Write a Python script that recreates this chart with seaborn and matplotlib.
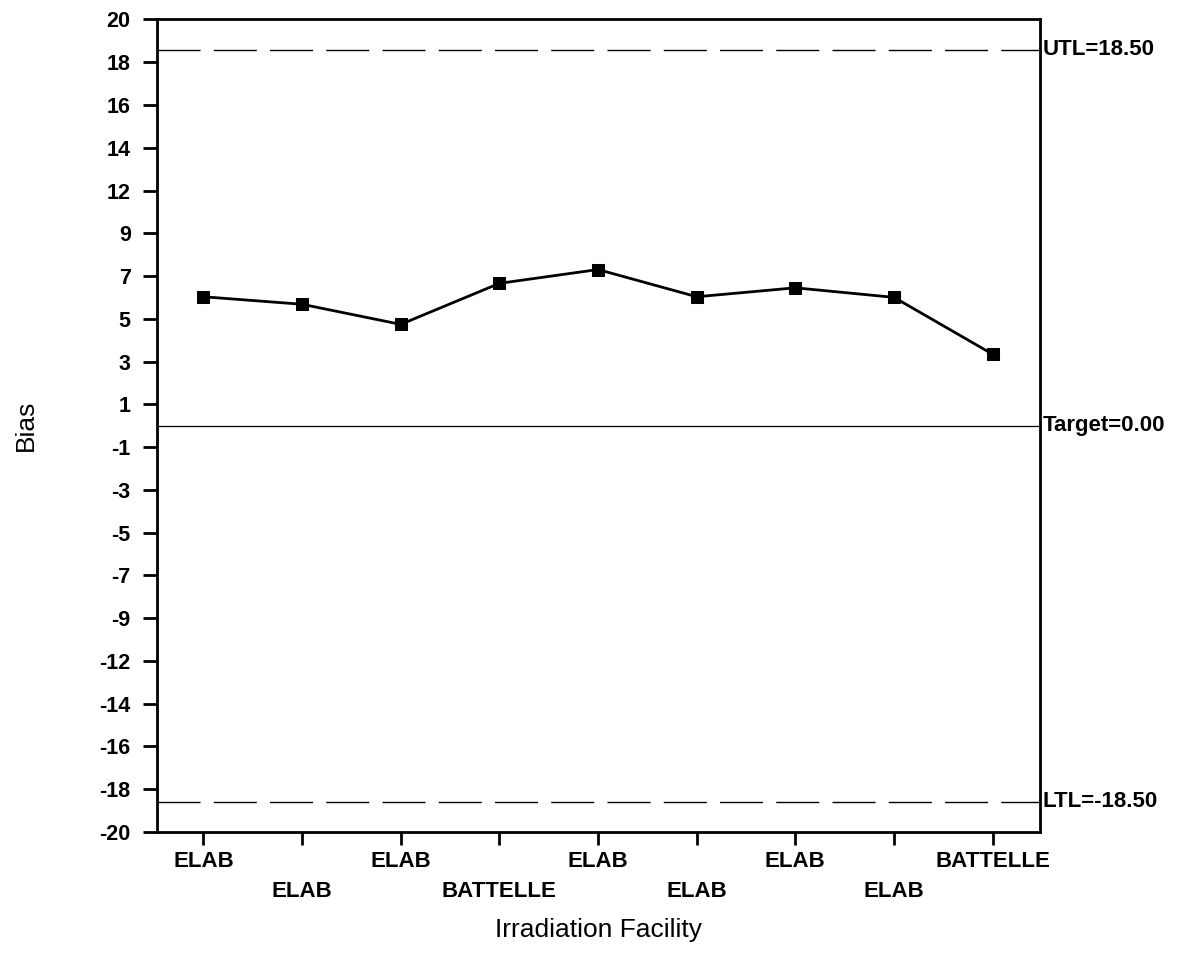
import numpy as np
import pandas as pd
import matplotlib
matplotlib.use("Agg")
import matplotlib.pyplot as plt
import matplotlib.transforms as mtransforms
import seaborn as sns

# ---- data ----
facilities = ["ELAB", "ELAB", "ELAB", "BATTELLE", "ELAB", "ELAB", "ELAB", "ELAB", "BATTELLE"]
bias = [6.35, 5.98, 4.99, 7.01, 7.69, 6.35, 6.79, 6.32, 3.52]
utl = 18.50
target = 0.00
ltl = -18.50
y_tick_labels = ["-20", "-18", "-16", "-14", "-12", "-9", "-7", "-5", "-3", "-1",
                 "1", "3", "5", "7", "9", "12", "14", "16", "18", "20"]
x_label = "Irradiation Facility"
y_label = "Bias"

sns.set_style("white")
plt.rcParams["font.family"] = ["Liberation Sans", "DejaVu Sans"]
plt.rcParams["text.color"] = "black"
plt.rcParams["axes.labelcolor"] = "black"
plt.rcParams["xtick.color"] = "black"
plt.rcParams["ytick.color"] = "black"

fig = plt.figure(figsize=(11.87, 9.59), dpi=100)
ax = fig.add_axes([0.1323, 0.1324, 0.7439, 0.8473])

df = pd.DataFrame({"pos": np.arange(len(bias)), "bias": bias})
sns.lineplot(data=df, x="pos", y="bias", ax=ax, color="black", linewidth=2.0,
             marker="s", markersize=9, markeredgecolor="black", sort=False)

# control lines
ax.axhline(utl, color="black", linewidth=1.0, linestyle=(0, (31, 9.5)))
ax.axhline(ltl, color="black", linewidth=1.0, linestyle=(0, (31, 9.5)))
ax.axhline(target, color="black", linewidth=0.9)

trans = mtransforms.blended_transform_factory(ax.transAxes, ax.transData)
for val, name in [(utl, "UTL"), (target, "Target"), (ltl, "LTL")]:
    ax.text(1.003, val, f"{name}={val:.2f}", transform=trans, ha="left", va="center",
            fontsize=16, fontweight="bold")

ax.set_ylim(-20, 20)
ax.set_xlim(-0.47, 8.48)
ax.set_yticks(np.linspace(-20, 20, 20))
ax.set_yticklabels(y_tick_labels, fontsize=15.5, fontweight="bold")

major_pos = list(range(0, len(facilities), 2))
minor_pos = list(range(1, len(facilities), 2))
ax.set_xticks(major_pos)
ax.set_xticklabels([facilities[i] for i in major_pos], fontsize=16, fontweight="bold")
ax.set_xticks(minor_pos, minor=True)
ax.set_xticklabels([facilities[i] for i in minor_pos], minor=True, fontsize=16, fontweight="bold")

ax.tick_params(axis="y", which="major", direction="out", length=10, width=2, pad=9, left=True)
ax.tick_params(axis="x", which="major", direction="out", length=9, width=2, pad=5, bottom=True)
ax.tick_params(axis="x", which="minor", direction="out", length=9, width=2, pad=26, bottom=True)

for sp in ax.spines.values():
    sp.set_visible(True)
    sp.set_color("black")
    sp.set_linewidth(2.0)

ax.set_xlabel(x_label, fontsize=19, labelpad=12)
ax.set_ylabel(y_label, fontsize=19)
ax.yaxis.set_label_coords(-0.135, 0.5)
ax.grid(False)

fig.savefig("out.png", dpi=100, facecolor="white")
